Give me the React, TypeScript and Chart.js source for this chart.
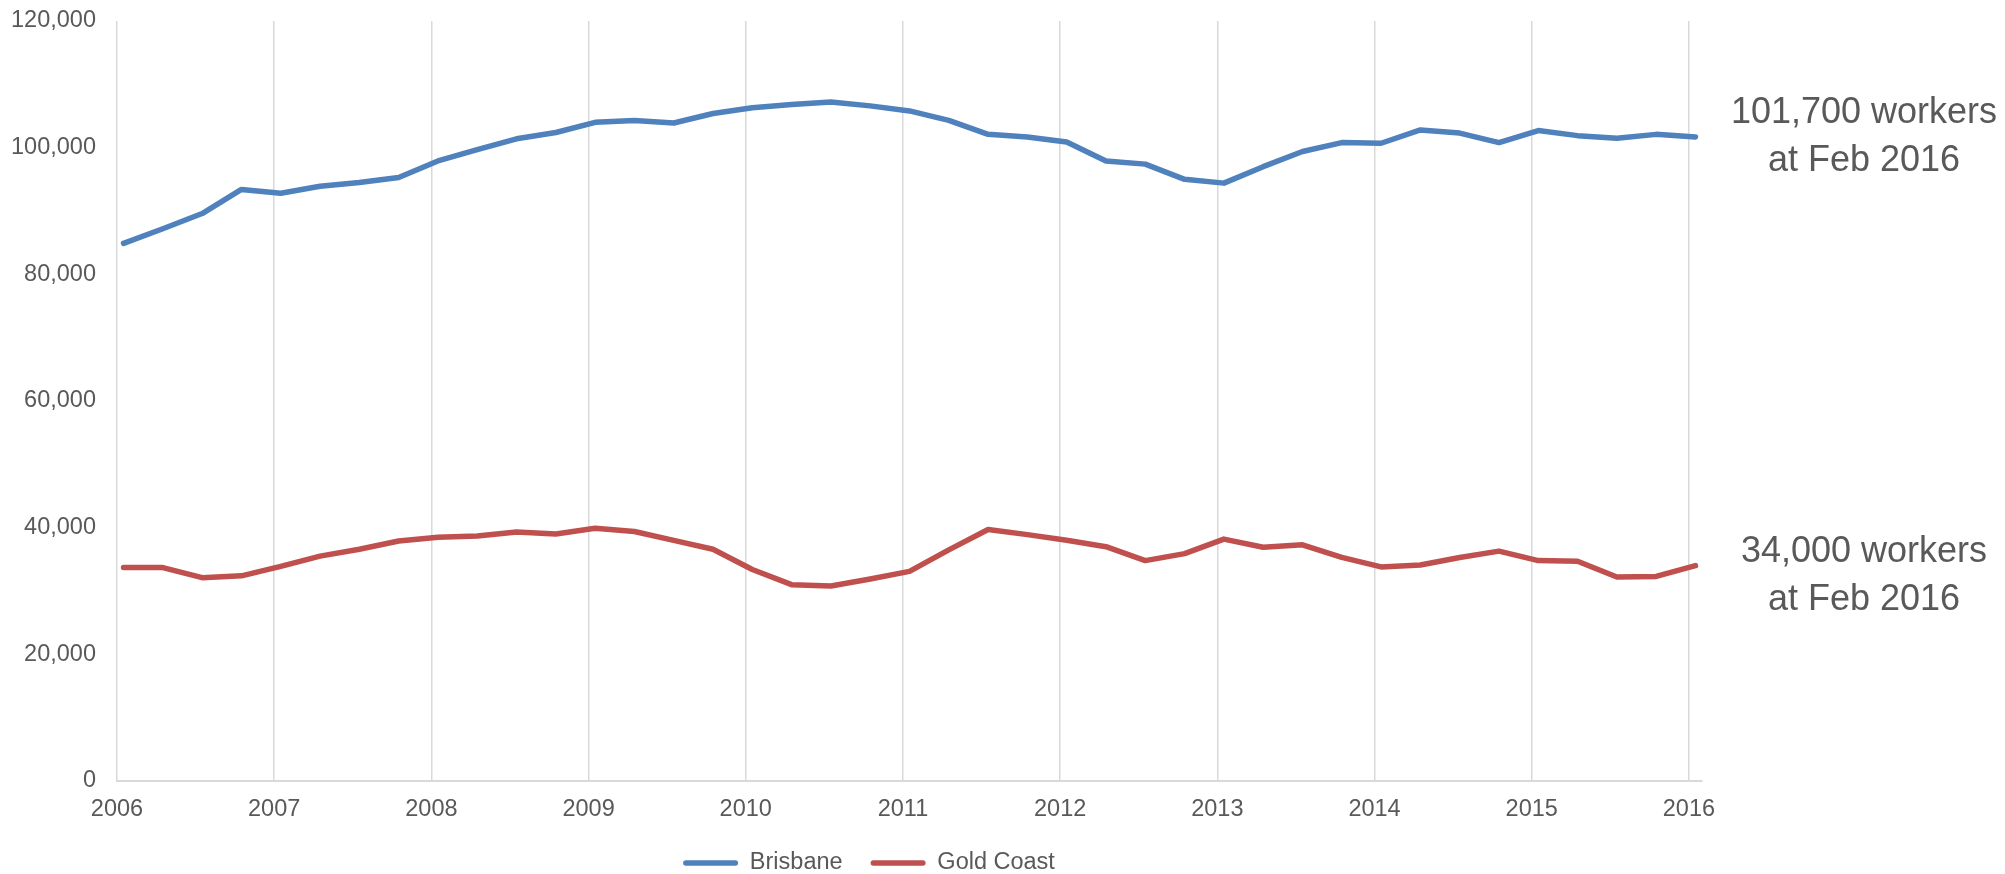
import React, { useEffect, useRef } from "react";
import { Chart, registerables } from "chart.js";

Chart.register(...registerables);

// ---- data ----
const seriesNames = ["Brisbane", "Gold Coast"];
const seriesColors = ["#4F81BD", "#C0504D"];

// quarterly values, Feb 2006 .. Feb 2016
const brisbane = [
  84900, 87200, 89600, 93400, 92800, 93900, 94500, 95300, 97900, 99700,
  101400, 102400, 104000, 104300, 103900, 105400, 106300, 106800, 107200, 106600,
  105800, 104300, 102100, 101700, 100900, 97900, 97400, 95000, 94400, 97000,
  99400, 100800, 100700, 102800, 102300, 100800, 102700, 101900, 101500, 102100,
  101700,
];
const goldCoast = [
  33700, 33700, 32100, 32400, 33900, 35500, 36600, 37900, 38500, 38700,
  39300, 39000, 39900, 39400, 38000, 36600, 33400, 31000, 30800, 31900,
  33100, 36500, 39700, 38900, 38000, 37000, 34800, 35900, 38200, 36900,
  37300, 35300, 33800, 34100, 35300, 36300, 34800, 34700, 32200, 32300,
  34000,
];

const quarterMonths = ["Feb", "May", "Aug", "Nov"];
const firstYear = 2006;
const yearLabels = [2006, 2007, 2008, 2009, 2010, 2011, 2012, 2013, 2014, 2015, 2016];
const yTicks = [0, 20000, 40000, 60000, 80000, 100000, 120000];

const endNotes = [
  { lines: ["101,700 workers", "at Feb 2016"], value: 101700, shift: 0 },
  { lines: ["34,000 workers", "at Feb 2016"], value: 34000, shift: 10 },
];

const quarterLabels: string[] = brisbane.map(
  (_, i) => `${quarterMonths[i % 4]} ${firstYear + Math.floor(i / 4)}`
);
const quarterX = quarterLabels.map((_, i) => i * 3 + 0.5);

const FONT = '"Liberation Sans", Arial, Helvetica, sans-serif';
const TEXT = "#595959";
const GRID = "#D9D9D9";

const endNotePlugin = {
  id: "endNotes",
  afterLayout(chart: any) {
    const lg = chart.legend;
    if (lg) {
      lg.left += 18;
      lg.right += 18;
    }
  },
  afterDraw(chart: any) {
    const { ctx, chartArea, scales } = chart;
    ctx.save();
    ctx.font = `36px ${FONT}`;
    ctx.fillStyle = TEXT;
    ctx.textAlign = "center";
    ctx.textBaseline = "middle";
    const cx = chartArea.right + 162;
    endNotes.forEach((n) => {
      const yc = scales.y.getPixelForValue(n.value) + n.shift;
      n.lines.forEach((line, j) => {
        ctx.fillText(line, cx, yc + (j - (n.lines.length - 1) / 2) * 48);
      });
    });
    ctx.restore();
  },
};

export default function App() {
  const ref = useRef<HTMLCanvasElement | null>(null);

  useEffect(() => {
    if (!ref.current) return;
    const values = [brisbane, goldCoast];
    const chart = new Chart(ref.current, {
      type: "line",
      data: {
        datasets: values.map((vals, s) => ({
          label: seriesNames[s],
          data: vals.map((v, i) => ({ x: quarterX[i], y: v })),
          borderColor: seriesColors[s],
          backgroundColor: seriesColors[s],
          borderWidth: 5.5,
          borderCapStyle: "round",
          borderJoinStyle: "round",
          pointRadius: 0,
          tension: 0,
          fill: false,
        })),
      },
      options: {
        responsive: false,
        maintainAspectRatio: false,
        animation: false,
        devicePixelRatio: 1,
        layout: { padding: { left: 0, right: 303, top: 21, bottom: -10.7 } },
        plugins: {
          tooltip: { enabled: false },
          legend: {
            position: "bottom",
            labels: {
              boxWidth: 55,
              boxHeight: 5.5,
              padding: 28,
              useBorderRadius: true,
              borderRadius: 2.75,
              color: TEXT,
              font: { family: FONT, size: 23.5 },
              generateLabels: (c: any) =>
                c.data.datasets.map((ds: any, i: number) => ({
                  text: ds.label,
                  fillStyle: ds.borderColor,
                  strokeStyle: ds.borderColor,
                  lineWidth: 0,
                  hidden: false,
                  datasetIndex: i,
                  borderRadius: 2.75,
                  fontColor: TEXT,
                })),
            },
          },
        },
        scales: {
          x: {
            type: "linear",
            min: 0,
            max: 121,
            afterBuildTicks: (scale: any) => {
              scale.ticks = yearLabels.map((y) => ({ value: (y - firstYear) * 12 }));
            },
            afterFit: (scale: any) => {
              scale.height = 42.2;
            },
            ticks: {
              color: TEXT,
              font: { family: FONT, size: 23.5 },
              padding: 14,
              maxRotation: 0,
              autoSkip: false,
              callback: (v: any) => String(firstYear + Math.round(Number(v) / 12)),
            },
            grid: { display: true, color: GRID, lineWidth: 1.5, drawTicks: false },
            border: { display: true, color: GRID, width: 2 },
          },
          y: {
            min: 0,
            max: 120000,
            afterBuildTicks: (scale: any) => {
              scale.ticks = yTicks.map((v) => ({ value: v }));
            },
            afterFit: (scale: any) => {
              scale.width = 117;
              scale.paddingTop = 0;
              scale.paddingBottom = 0;
            },
            ticks: {
              color: TEXT,
              font: { family: FONT, size: 23.5 },
              padding: 21,
              callback: (v: any) => Number(v).toLocaleString("en-US"),
            },
            grid: { display: false, drawTicks: false },
            border: { display: false },
          },
        },
      },
      plugins: [endNotePlugin],
    } as any);
    return () => chart.destroy();
  }, []);

  return (
    <div style={{ position: "fixed", left: 0, top: 0, width: 2005, height: 874, background: "#fff" }}>
      <canvas ref={ref} width={2005} height={874} style={{ display: "block", width: 2005, height: 874 }} />
    </div>
  );
}
